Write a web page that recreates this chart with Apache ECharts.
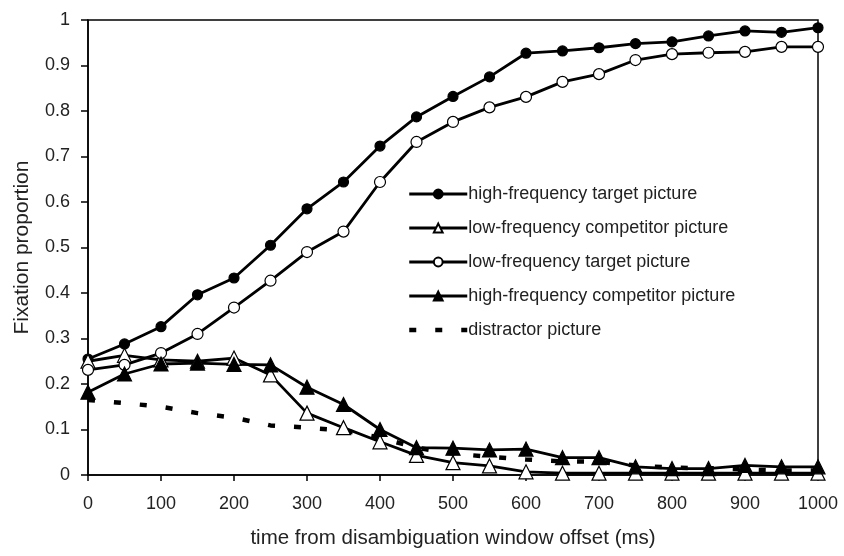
<!DOCTYPE html>
<html>
<head>
<meta charset="utf-8">
<script src="https://cdn.jsdelivr.net/npm/echarts@6/dist/echarts.min.js"></script>
<style>
  html, body { margin: 0; padding: 0; background: #fff; }
  #chart { width: 844px; height: 556px; }
</style>
</head>
<body>
<div id="chart"></div>
<script>
  // time points (ms)
  const times = [0, 50, 100, 150, 200, 250, 300, 350, 400, 450, 500, 550, 600, 650, 700, 750, 800, 850, 900, 950, 1000]

  const hfTarget = [0.255, 0.288, 0.326, 0.396, 0.433, 0.505, 0.585, 0.644, 0.723, 0.787, 0.832, 0.875, 0.927, 0.932, 0.939, 0.948, 0.952, 0.965, 0.976, 0.973, 0.983]
  const lfCompetitor = [0.25, 0.263, 0.253, 0.25, 0.257, 0.22, 0.136, 0.104, 0.073, 0.043, 0.027, 0.02, 0.007, 0.004, 0.004, 0.004, 0.004, 0.004, 0.004, 0.004, 0.004]
  const lfTarget = [0.231, 0.242, 0.268, 0.31, 0.368, 0.427, 0.49, 0.535, 0.644, 0.732, 0.776, 0.808, 0.831, 0.864, 0.881, 0.912, 0.925, 0.928, 0.93, 0.941, 0.941]
  const hfCompetitor = [0.182, 0.222, 0.244, 0.246, 0.243, 0.242, 0.193, 0.155, 0.1, 0.06, 0.059, 0.055, 0.057, 0.038, 0.038, 0.018, 0.014, 0.014, 0.021, 0.018, 0.018]
  const distractor = [0.165, 0.158, 0.15, 0.136, 0.126, 0.109, 0.104, 0.098, 0.082, 0.06, 0.047, 0.04, 0.034, 0.03, 0.029, 0.021, 0.016, 0.015, 0.012, 0.01, 0.01]

  const names = ['high-frequency target picture', 'low-frequency competitor picture', 'low-frequency target picture', 'high-frequency competitor picture', 'distractor picture']

  const pairs = vals => times.map((t, i) => [t, vals[i]])
  const font = '"Liberation Sans", Arial, sans-serif'

  function lineSeries(name, vals, symbol, size, fill) {
    return {
      name: name,
      type: 'line',
      data: pairs(vals),
      symbol: symbol,
      symbolSize: size,
      showAllSymbol: true,
      lineStyle: { color: '#000', width: 2.8 },
      itemStyle: { color: fill, borderColor: '#000', borderWidth: 1.2 },
      emphasis: { disabled: true }
    }
  }

  const chart = echarts.init(document.getElementById('chart'))
  chart.setOption({
    animation: false,
    grid: {
      left: 88,
      right: 26,
      top: 20,
      bottom: 81,
      show: true,
      borderColor: '#000',
      borderWidth: 1.5
    },
    legend: {
      orient: 'vertical',
      left: 402,
      top: 180,
      itemWidth: 58,
      itemHeight: 11,
      itemGap: 16,
      lineStyle: { width: 2.8 },
      textStyle: { fontFamily: font, fontSize: 18, color: '#222', padding: [0, 0, 0, -4] },
      data: [names[0], names[1], names[2], names[3], {
        name: names[4],
        itemStyle: { opacity: 0 },
        lineStyle: { width: 4.5, type: [7, 19] }
      }]
    },
    xAxis: {
      type: 'value',
      min: 0,
      max: 1000,
      interval: 100,
      name: 'time from disambiguation window offset (ms)',
      nameLocation: 'middle',
      nameGap: 53,
      nameTextStyle: { fontFamily: font, fontSize: 20.5, color: '#222' },
      axisLine: { lineStyle: { color: '#000', width: 1.5 } },
      axisTick: { show: true, length: 6, lineStyle: { color: '#000', width: 1.5 } },
      axisLabel: { fontFamily: font, fontSize: 18, color: '#222', margin: 20, formatter: v => String(v) },
      splitLine: { show: false }
    },
    yAxis: {
      type: 'value',
      min: 0,
      max: 1,
      interval: 0.1,
      name: 'Fixation proportion',
      nameLocation: 'middle',
      nameGap: 55,
      nameTextStyle: { fontFamily: font, fontSize: 21, color: '#222' },
      axisLine: { show: true, lineStyle: { color: '#000', width: 1.5 } },
      axisTick: { show: true, length: 7, lineStyle: { color: '#000', width: 1.5 } },
      axisLabel: { fontFamily: font, fontSize: 18, color: '#222', margin: 18 },
      splitLine: { show: false }
    },
    series: [
      lineSeries(names[0], hfTarget, 'circle', 10, '#000'),
      lineSeries(names[1], lfCompetitor, 'triangle', 14, '#fff'),
      lineSeries(names[2], lfTarget, 'circle', 11, '#fff'),
      lineSeries(names[3], hfCompetitor, 'triangle', 14, '#000'),
      {
        name: names[4],
        type: 'line',
        data: pairs(distractor),
        symbol: 'none',
        lineStyle: { color: '#000', width: 4.5, type: [7, 19] },
        itemStyle: { color: '#000' },
        emphasis: { disabled: true },
        z: 1
      }
    ]
  })
</script>
</body>
</html>
